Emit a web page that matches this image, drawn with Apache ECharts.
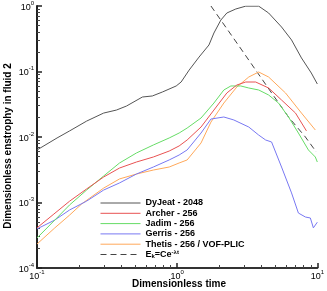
<!DOCTYPE html>
<html><head><meta charset="utf-8">
<script src="https://cdn.jsdelivr.net/npm/echarts@6/dist/echarts.min.js"></script>
<style>html,body{margin:0;padding:0;background:#fff}#c{width:327px;height:291px}</style>
</head><body><div id="c"></div>
<script>
// Data: [time, enstrophy]
const dyjeat = [[0.1,0.00634],[0.139,0.00966],[0.171,0.0124],[0.226,0.0175],[0.299,0.0232],[0.369,0.0258],[0.435,0.0297],[0.565,0.0408],[0.665,0.0423],[0.784,0.0486],[0.984,0.0601],[1.067,0.0691],[1.217,0.105],[1.432,0.166],[1.686,0.254],[1.829,0.387],[2.051,0.611],[2.262,0.782],[2.62,0.9],[3.084,0.995],[3.818,0.995],[4.491,0.782],[5.555,0.478],[6.546,0.303],[7.705,0.161],[9.06,0.0948],[10.0,0.0645]];
const archer = [[0.1,0.00041],[0.132,0.000667],[0.171,0.00105],[0.226,0.00161],[0.299,0.00245],[0.388,0.00336],[0.512,0.00415],[0.676,0.00495],[0.877,0.0061],[1.033,0.0073],[1.178,0.009],[1.48,0.0142],[1.829,0.0258],[2.262,0.047],[2.665,0.0622],[3.084,0.0691],[3.631,0.0691],[4.491,0.056],[5.555,0.0367],[6.987,0.0232],[8.361,0.0124]];
const jadim = [[0.1,0.000287],[0.134,0.00054],[0.171,0.00092],[0.226,0.00155],[0.299,0.00254],[0.388,0.00401],[0.512,0.0057],[0.676,0.00755],[0.877,0.00966],[1.033,0.0115],[1.178,0.0137],[1.48,0.0195],[1.829,0.033],[2.153,0.0522],[2.415,0.0601],[2.845,0.0601],[3.243,0.056],[3.818,0.0522],[4.491,0.0438],[5.287,0.033],[6.228,0.0202],[7.328,0.0115],[8.635,0.00634],[9.676,0.00495],[10.0,0.00415]];
const gerris = [[0.1,0.000395],[0.134,0.00054],[0.171,0.00077],[0.226,0.00105],[0.299,0.00155],[0.388,0.00199],[0.512,0.00272],[0.676,0.00348],[0.877,0.00446],[1.033,0.00531],[1.178,0.00634],[1.48,0.0115],[1.742,0.0188],[2.153,0.0202],[2.536,0.0182],[3.243,0.0142],[3.818,0.0107],[4.277,0.009],[4.716,0.00839],[5.555,0.00348],[6.546,0.0014],[7.328,0.00069],[8.226,0.0006],[8.917,0.00058],[9.37,0.00041],[10.0,0.0005]];
const thetis = [[0.1,0.000232],[0.134,0.00041],[0.171,0.000644],[0.208,0.000948],[0.238,0.00117],[0.299,0.00166],[0.388,0.00229],[0.512,0.00272],[0.676,0.00313],[0.877,0.00348],[1.033,0.00401],[1.178,0.00446],[1.48,0.0081],[1.742,0.0169],[2.153,0.033],[2.665,0.058],[3.243,0.0824],[3.818,0.0983],[4.491,0.0824],[5.931,0.047],[7.705,0.0232],[9.676,0.0128]];
const expFit = [[1.742,1.0],[2.89,0.213],[4.72,0.047],[6.23,0.0202],[8.22,0.01],[9.84,0.0059]];
const seriesNames = ['DyJeat - 2048','Archer - 256','Jadim - 256','Gerris - 256','Thetis - 256 / VOF-PLIC','Ek=Ce-λt'];
const xMinor = [0.2,0.3,0.4,0.5,0.6,0.7,0.8,0.9,2,3,4,5,6,7,8,9];
const yMinor = [2e-4,3e-4,4e-4,5e-4,6e-4,7e-4,8e-4,9e-4,2e-3,3e-3,4e-3,5e-3,6e-3,7e-3,8e-3,9e-3,0.02,0.03,0.04,0.05,0.06,0.07,0.08,0.09,0.2,0.3,0.4,0.5,0.6,0.7,0.8,0.9];
const xMajor = [0.1,1,10];
const yMajor = [1e-4,1e-3,1e-2,1e-1,1];

const font = 'Liberation Sans, Arial, sans-serif';
const expLabel = v => { const e = Math.round(Math.log10(v)); return '{b|10}{s|' + e + '}'; };
const richLab = { b:{fontSize:9, fontFamily:font, color:'#000', lineHeight:12, verticalAlign:'bottom'}, s:{fontSize:6, fontFamily:font, color:'#000', lineHeight:12, verticalAlign:'top'} };

const chart = echarts.init(document.getElementById('c'), null, {renderer:'canvas'});
const colors = ['#555555','#e85252','#66dc66','#7878f2','#ffa85a','#444444'];
const datasets = [dyjeat, archer, jadim, gerris, thetis, expFit];
chart.setOption({
  animation:false,
  grid:{left:37, right:7, top:6, bottom:23},
  legend:{orient:'vertical', left:100, top:198, padding:0, itemWidth:40, itemHeight:10, itemGap:0.3,
    data:seriesNames,
    itemStyle:{color:'rgba(0,0,0,0)', borderColor:'rgba(0,0,0,0)', borderWidth:0, opacity:0},
    lineStyle:{width:1},
    textStyle:{fontSize:9, fontWeight:'bold', fontFamily:font, color:'#000', lineHeight:10,
      rich:{b:{fontSize:9,fontWeight:'bold',fontFamily:font,color:'#000'},
            sub:{fontSize:6,fontWeight:'bold',fontFamily:font,color:'#000',verticalAlign:'bottom',padding:[3,0,0,0]},
            sup:{fontSize:6,fontWeight:'bold',fontFamily:font,color:'#000',padding:[0,0,4,0]}}},
    formatter: n => n === 'Ek=Ce-λt' ? '{b|E}{sub|k}{b|=Ce}{sup|-λt}' : n
  },
  xAxis:[
    {type:'log', logBase:10, min:0.1, max:10, axisLine:{lineStyle:{color:'#333', width:2}},
     axisTick:{inside:true, length:5, lineStyle:{color:'#222', width:1.5}, customValues:xMajor},
     axisLabel:{margin:1, formatter:expLabel, rich:richLab, customValues:xMajor}, splitLine:{show:false}},
    {type:'log', logBase:10, min:0.1, max:10, position:'bottom', axisLine:{show:false},
     axisTick:{inside:true, length:3, lineStyle:{color:'#444', width:1}, customValues:xMinor},
     axisLabel:{show:false}, splitLine:{show:false}}
  ],
  yAxis:[
    {type:'log', logBase:10, min:1e-4, max:1, axisLine:{show:true, lineStyle:{color:'#222', width:2}},
     axisTick:{show:true, inside:true, length:5, lineStyle:{color:'#222', width:1.5}, customValues:yMajor},
     axisLabel:{margin:3, formatter:expLabel, rich:richLab, customValues:yMajor}, splitLine:{show:false}},
    {type:'log', logBase:10, min:1e-4, max:1, position:'left', axisLine:{show:false},
     axisTick:{show:true, inside:true, length:3, lineStyle:{color:'#444', width:1}, customValues:yMinor},
     axisLabel:{show:false}, splitLine:{show:false}}
  ],
  graphic:[
    {type:'text', x:8, y:146, rotation:Math.PI/2, style:{text:'Dimensionless enstrophy in fluid 2', font:'bold 10px '+font, fill:'#000', textAlign:'center', textVerticalAlign:'middle'}},
    {type:'text', x:179, y:284, style:{text:'Dimensionless time', font:'bold 10px '+font, fill:'#000', textAlign:'center', textVerticalAlign:'middle'}}
  ],
  series: datasets.map((d,i) => ({
    name:seriesNames[i], type:'line', data:d, showSymbol:false, symbol:'none', smooth:false,
    lineStyle:{color:colors[i], width:1, type: i===5 ? [6,4] : 'solid'},
    itemStyle:{color:colors[i]}, z: 10-i
  }))
});
</script></body></html>
